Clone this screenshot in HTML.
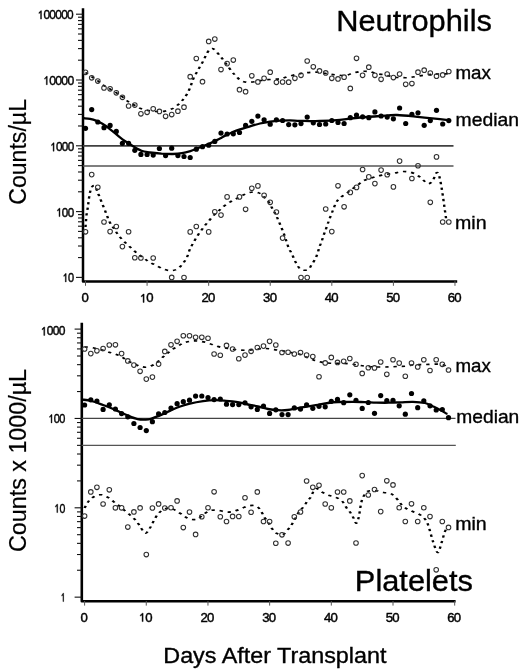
<!DOCTYPE html>
<html><head><meta charset="utf-8"><title>Neutrophils and Platelets</title>
<style>html,body{margin:0;padding:0;background:#fff;}svg{display:block;filter:grayscale(1);}</style>
</head><body>
<svg width="520" height="671" viewBox="0 0 520 671">
<rect x="0" y="0" width="520" height="671" fill="#fff"/>
<path d="M83.0 8.2 L83.0 281.5 L457.2 281.5" fill="none" stroke="#000" stroke-width="2.5" stroke-linejoin="round"/>
<line x1="76" y1="277.40" x2="83.0" y2="277.40" stroke="#111" stroke-width="1.1"/>
<line x1="78" y1="257.59" x2="83.0" y2="257.59" stroke="#111" stroke-width="1.1"/>
<line x1="78" y1="246.01" x2="83.0" y2="246.01" stroke="#111" stroke-width="1.1"/>
<line x1="78" y1="237.78" x2="83.0" y2="237.78" stroke="#111" stroke-width="1.1"/>
<line x1="78" y1="231.41" x2="83.0" y2="231.41" stroke="#111" stroke-width="1.1"/>
<line x1="78" y1="226.20" x2="83.0" y2="226.20" stroke="#111" stroke-width="1.1"/>
<line x1="78" y1="221.79" x2="83.0" y2="221.79" stroke="#111" stroke-width="1.1"/>
<line x1="78" y1="217.98" x2="83.0" y2="217.98" stroke="#111" stroke-width="1.1"/>
<line x1="78" y1="214.61" x2="83.0" y2="214.61" stroke="#111" stroke-width="1.1"/>
<line x1="76" y1="211.60" x2="83.0" y2="211.60" stroke="#111" stroke-width="1.1"/>
<line x1="78" y1="191.79" x2="83.0" y2="191.79" stroke="#111" stroke-width="1.1"/>
<line x1="78" y1="180.21" x2="83.0" y2="180.21" stroke="#111" stroke-width="1.1"/>
<line x1="78" y1="171.98" x2="83.0" y2="171.98" stroke="#111" stroke-width="1.1"/>
<line x1="78" y1="165.61" x2="83.0" y2="165.61" stroke="#111" stroke-width="1.1"/>
<line x1="78" y1="160.40" x2="83.0" y2="160.40" stroke="#111" stroke-width="1.1"/>
<line x1="78" y1="155.99" x2="83.0" y2="155.99" stroke="#111" stroke-width="1.1"/>
<line x1="78" y1="152.18" x2="83.0" y2="152.18" stroke="#111" stroke-width="1.1"/>
<line x1="78" y1="148.81" x2="83.0" y2="148.81" stroke="#111" stroke-width="1.1"/>
<line x1="76" y1="145.80" x2="83.0" y2="145.80" stroke="#111" stroke-width="1.1"/>
<line x1="78" y1="125.99" x2="83.0" y2="125.99" stroke="#111" stroke-width="1.1"/>
<line x1="78" y1="114.41" x2="83.0" y2="114.41" stroke="#111" stroke-width="1.1"/>
<line x1="78" y1="106.18" x2="83.0" y2="106.18" stroke="#111" stroke-width="1.1"/>
<line x1="78" y1="99.81" x2="83.0" y2="99.81" stroke="#111" stroke-width="1.1"/>
<line x1="78" y1="94.60" x2="83.0" y2="94.60" stroke="#111" stroke-width="1.1"/>
<line x1="78" y1="90.19" x2="83.0" y2="90.19" stroke="#111" stroke-width="1.1"/>
<line x1="78" y1="86.38" x2="83.0" y2="86.38" stroke="#111" stroke-width="1.1"/>
<line x1="78" y1="83.01" x2="83.0" y2="83.01" stroke="#111" stroke-width="1.1"/>
<line x1="76" y1="80.00" x2="83.0" y2="80.00" stroke="#111" stroke-width="1.1"/>
<line x1="78" y1="60.19" x2="83.0" y2="60.19" stroke="#111" stroke-width="1.1"/>
<line x1="78" y1="48.61" x2="83.0" y2="48.61" stroke="#111" stroke-width="1.1"/>
<line x1="78" y1="40.38" x2="83.0" y2="40.38" stroke="#111" stroke-width="1.1"/>
<line x1="78" y1="34.01" x2="83.0" y2="34.01" stroke="#111" stroke-width="1.1"/>
<line x1="78" y1="28.80" x2="83.0" y2="28.80" stroke="#111" stroke-width="1.1"/>
<line x1="78" y1="24.39" x2="83.0" y2="24.39" stroke="#111" stroke-width="1.1"/>
<line x1="78" y1="20.58" x2="83.0" y2="20.58" stroke="#111" stroke-width="1.1"/>
<line x1="78" y1="17.21" x2="83.0" y2="17.21" stroke="#111" stroke-width="1.1"/>
<line x1="76" y1="14.20" x2="83.0" y2="14.20" stroke="#111" stroke-width="1.1"/>
<line x1="85.50" y1="281" x2="85.50" y2="285.8" stroke="#555" stroke-width="1"/>
<line x1="147.08" y1="281" x2="147.08" y2="285.8" stroke="#555" stroke-width="1"/>
<line x1="208.66" y1="281" x2="208.66" y2="285.8" stroke="#555" stroke-width="1"/>
<line x1="270.24" y1="281" x2="270.24" y2="285.8" stroke="#555" stroke-width="1"/>
<line x1="331.82" y1="281" x2="331.82" y2="285.8" stroke="#555" stroke-width="1"/>
<line x1="393.40" y1="281" x2="393.40" y2="285.8" stroke="#555" stroke-width="1"/>
<line x1="454.98" y1="281" x2="454.98" y2="285.8" stroke="#555" stroke-width="1"/>
<path d="M81.8 322.8 L81.8 601.2 L455.6 601.2" fill="none" stroke="#000" stroke-width="2.6" stroke-linejoin="round"/>
<line x1="74.6" y1="597.15" x2="81.8" y2="597.15" stroke="#111" stroke-width="1.1"/>
<line x1="77" y1="570.25" x2="81.8" y2="570.25" stroke="#111" stroke-width="1.1"/>
<line x1="77" y1="554.52" x2="81.8" y2="554.52" stroke="#111" stroke-width="1.1"/>
<line x1="77" y1="543.36" x2="81.8" y2="543.36" stroke="#111" stroke-width="1.1"/>
<line x1="77" y1="534.70" x2="81.8" y2="534.70" stroke="#111" stroke-width="1.1"/>
<line x1="77" y1="527.62" x2="81.8" y2="527.62" stroke="#111" stroke-width="1.1"/>
<line x1="77" y1="521.64" x2="81.8" y2="521.64" stroke="#111" stroke-width="1.1"/>
<line x1="77" y1="516.46" x2="81.8" y2="516.46" stroke="#111" stroke-width="1.1"/>
<line x1="77" y1="511.89" x2="81.8" y2="511.89" stroke="#111" stroke-width="1.1"/>
<line x1="74.6" y1="507.80" x2="81.8" y2="507.80" stroke="#111" stroke-width="1.1"/>
<line x1="77" y1="480.90" x2="81.8" y2="480.90" stroke="#111" stroke-width="1.1"/>
<line x1="77" y1="465.17" x2="81.8" y2="465.17" stroke="#111" stroke-width="1.1"/>
<line x1="77" y1="454.01" x2="81.8" y2="454.01" stroke="#111" stroke-width="1.1"/>
<line x1="77" y1="445.35" x2="81.8" y2="445.35" stroke="#111" stroke-width="1.1"/>
<line x1="77" y1="438.27" x2="81.8" y2="438.27" stroke="#111" stroke-width="1.1"/>
<line x1="77" y1="432.29" x2="81.8" y2="432.29" stroke="#111" stroke-width="1.1"/>
<line x1="77" y1="427.11" x2="81.8" y2="427.11" stroke="#111" stroke-width="1.1"/>
<line x1="77" y1="422.54" x2="81.8" y2="422.54" stroke="#111" stroke-width="1.1"/>
<line x1="74.6" y1="418.45" x2="81.8" y2="418.45" stroke="#111" stroke-width="1.1"/>
<line x1="77" y1="391.55" x2="81.8" y2="391.55" stroke="#111" stroke-width="1.1"/>
<line x1="77" y1="375.82" x2="81.8" y2="375.82" stroke="#111" stroke-width="1.1"/>
<line x1="77" y1="364.66" x2="81.8" y2="364.66" stroke="#111" stroke-width="1.1"/>
<line x1="77" y1="356.00" x2="81.8" y2="356.00" stroke="#111" stroke-width="1.1"/>
<line x1="77" y1="348.92" x2="81.8" y2="348.92" stroke="#111" stroke-width="1.1"/>
<line x1="77" y1="342.94" x2="81.8" y2="342.94" stroke="#111" stroke-width="1.1"/>
<line x1="77" y1="337.76" x2="81.8" y2="337.76" stroke="#111" stroke-width="1.1"/>
<line x1="77" y1="333.19" x2="81.8" y2="333.19" stroke="#111" stroke-width="1.1"/>
<line x1="74.6" y1="329.10" x2="81.8" y2="329.10" stroke="#111" stroke-width="1.1"/>
<line x1="84.60" y1="601" x2="84.60" y2="605.6" stroke="#555" stroke-width="1"/>
<line x1="146.28" y1="601" x2="146.28" y2="605.6" stroke="#555" stroke-width="1"/>
<line x1="207.96" y1="601" x2="207.96" y2="605.6" stroke="#555" stroke-width="1"/>
<line x1="269.64" y1="601" x2="269.64" y2="605.6" stroke="#555" stroke-width="1"/>
<line x1="331.32" y1="601" x2="331.32" y2="605.6" stroke="#555" stroke-width="1"/>
<line x1="393.00" y1="601" x2="393.00" y2="605.6" stroke="#555" stroke-width="1"/>
<line x1="454.68" y1="601" x2="454.68" y2="605.6" stroke="#555" stroke-width="1"/>
<line x1="83.0" y1="145.9" x2="453.5" y2="145.9" stroke="#404040" stroke-width="1.7"/>
<line x1="83.0" y1="166.0" x2="453.5" y2="166.0" stroke="#555" stroke-width="1.5"/>
<line x1="81.8" y1="418.3" x2="455.5" y2="418.3" stroke="#444" stroke-width="1.3"/>
<line x1="81.8" y1="445.3" x2="455.8" y2="445.3" stroke="#555" stroke-width="1.3"/>
<g transform="scale(1.450 1)">
<path d="M58.97 72.5 C59.71 73.2 62.01 75.6 63.45 77.0 C64.89 78.4 66.21 79.6 67.59 81.0 C68.97 82.4 70.34 84.2 71.72 85.5 C73.10 86.8 74.48 87.8 75.86 89.0 C77.24 90.2 78.62 91.2 80.00 92.5 C81.38 93.8 82.76 95.0 84.14 96.5 C85.52 98.0 86.78 100.0 88.28 101.5 C89.77 103.0 91.55 104.3 93.10 105.5 C94.66 106.7 95.75 107.9 97.59 108.8 C99.43 109.7 102.24 110.5 104.14 111.0 C106.03 111.5 107.36 111.5 108.97 111.5 C110.57 111.5 112.07 111.6 113.79 111.1 C115.52 110.6 117.66 109.5 119.31 108.3 C120.97 107.0 122.53 105.1 123.72 103.6 C124.92 102.1 125.63 100.6 126.48 99.1 C127.33 97.6 128.13 96.1 128.83 94.4 C129.53 92.7 130.15 90.8 130.69 89.0 C131.23 87.2 131.61 85.5 132.07 83.7 C132.53 81.9 132.84 80.2 133.45 78.3 C134.06 76.4 134.95 74.3 135.72 72.3 C136.49 70.3 137.32 68.1 138.07 66.2 C138.82 64.3 139.52 62.8 140.21 60.9 C140.90 59.0 141.53 56.6 142.21 54.8 C142.89 53.0 143.61 50.9 144.28 49.9 C144.94 48.9 145.54 48.5 146.21 48.5 C146.87 48.5 147.39 48.9 148.28 50.1 C149.16 51.3 150.52 53.8 151.52 55.5 C152.52 57.2 152.93 57.9 154.28 60.5 C155.62 63.1 158.15 68.3 159.59 70.9 C161.02 73.5 161.80 74.6 162.90 76.2 C163.99 77.8 164.75 79.5 166.14 80.5 C167.53 81.5 169.31 82.2 171.24 82.3 C173.17 82.4 175.87 81.6 177.72 81.2 C179.57 80.8 180.56 80.2 182.34 79.9 C184.13 79.6 186.48 79.5 188.41 79.3 C190.34 79.1 192.23 79.0 193.93 78.5 C195.63 78.0 196.75 77.2 198.62 76.5 C200.49 75.8 203.23 74.8 205.17 74.2 C207.11 73.6 208.57 73.2 210.28 72.9 C211.98 72.6 213.60 72.3 215.38 72.2 C217.16 72.1 219.10 72.1 220.97 72.4 C222.83 72.7 224.70 73.6 226.55 74.0 C228.40 74.4 230.14 74.7 232.07 74.9 C234.00 75.1 236.26 75.7 238.14 75.4 C240.01 75.1 241.52 73.9 243.31 73.2 C245.10 72.5 247.05 71.8 248.90 71.5 C250.75 71.2 252.64 71.2 254.41 71.5 C256.18 71.8 257.66 73.0 259.52 73.6 C261.38 74.2 263.64 74.4 265.59 74.9 C267.53 75.5 269.32 76.5 271.17 76.9 C273.02 77.4 274.86 77.5 276.69 77.6 C278.52 77.7 280.30 77.8 282.14 77.6 C283.98 77.4 285.78 76.7 287.72 76.2 C289.67 75.8 291.86 75.3 293.79 74.9 C295.72 74.5 297.54 74.2 299.31 74.0 C301.08 73.8 302.69 74.1 304.41 74.0 C306.14 73.9 308.78 73.6 309.66 73.5" fill="none" stroke="#000" stroke-width="1.65" stroke-dasharray="2.3 3.4"/>
<path d="M58.97 227.0 C59.09 224.9 59.46 217.5 59.72 214.3 C59.99 211.1 60.32 209.9 60.55 207.7 C60.78 205.5 60.87 203.6 61.10 201.2 C61.33 198.8 61.55 195.8 61.93 193.4 C62.31 191.0 62.79 188.2 63.38 187.0 C63.97 185.8 64.83 185.3 65.45 186.0 C66.07 186.7 66.62 189.7 67.10 191.3 C67.59 192.9 67.86 194.1 68.34 195.8 C68.83 197.6 69.45 199.8 70.00 201.8 C70.55 203.8 71.10 205.7 71.66 207.7 C72.21 209.7 72.77 211.7 73.31 213.7 C73.85 215.7 74.32 217.8 74.90 219.7 C75.47 221.6 76.07 223.4 76.76 225.0 C77.45 226.6 78.28 227.6 79.03 229.2 C79.79 230.8 80.37 232.7 81.31 234.5 C82.25 236.3 83.59 238.6 84.69 240.3 C85.79 242.0 86.85 243.2 87.93 244.7 C89.01 246.1 90.01 247.5 91.17 249.0 C92.33 250.5 93.59 252.2 94.90 253.7 C96.21 255.2 97.70 256.6 99.03 258.0 C100.37 259.4 101.47 260.7 102.90 261.9 C104.32 263.1 105.98 264.1 107.59 265.3 C109.20 266.5 110.83 268.1 112.55 269.0 C114.28 269.9 116.23 270.8 117.93 270.7 C119.63 270.6 121.41 269.8 122.76 268.6 C124.10 267.4 125.00 265.4 126.00 263.6 C127.00 261.8 128.03 259.9 128.76 257.9 C129.48 255.9 129.82 253.4 130.34 251.5 C130.87 249.6 131.31 248.3 131.93 246.5 C132.55 244.7 133.32 242.8 134.07 240.9 C134.82 239.0 135.63 237.0 136.41 235.3 C137.20 233.6 137.91 232.3 138.76 230.6 C139.61 228.9 140.60 226.9 141.52 225.2 C142.44 223.5 143.28 222.2 144.28 220.5 C145.28 218.8 146.44 216.7 147.52 215.1 C148.60 213.5 149.60 212.5 150.76 211.0 C151.92 209.5 153.16 207.6 154.48 206.1 C155.80 204.6 157.22 203.3 158.69 202.0 C160.16 200.7 161.77 199.7 163.31 198.5 C164.85 197.3 166.28 196.0 167.93 194.9 C169.59 193.8 171.48 192.5 173.24 192.2 C175.00 191.9 177.01 192.1 178.48 192.9 C179.95 193.7 180.91 195.3 182.07 196.9 C183.23 198.5 184.49 200.4 185.45 202.3 C186.40 204.2 187.01 206.4 187.79 208.4 C188.57 210.4 189.44 212.4 190.14 214.4 C190.84 216.4 191.39 218.5 192.00 220.5 C192.61 222.5 193.18 224.4 193.79 226.5 C194.40 228.6 195.06 231.0 195.66 233.3 C196.25 235.7 196.79 238.1 197.38 240.6 C197.97 243.1 198.54 246.2 199.17 248.3 C199.80 250.4 200.57 251.7 201.17 253.4 C201.77 255.1 202.16 256.8 202.76 258.6 C203.36 260.4 203.95 262.6 204.76 264.4 C205.56 266.2 206.32 268.7 207.59 269.6 C208.85 270.5 211.09 270.5 212.34 269.6 C213.60 268.7 214.24 266.2 215.10 264.4 C215.97 262.6 216.85 260.5 217.52 258.6 C218.18 256.7 218.64 254.8 219.10 252.9 C219.56 251.0 219.82 249.0 220.28 247.1 C220.74 245.2 221.39 243.2 221.86 241.3 C222.33 239.4 222.68 237.3 223.10 235.5 C223.53 233.7 223.95 232.4 224.41 230.6 C224.87 228.8 225.40 226.5 225.86 224.6 C226.32 222.7 226.56 221.6 227.17 219.3 C227.78 217.0 228.74 213.4 229.52 210.6 C230.30 207.8 231.01 204.6 231.86 202.5 C232.71 200.4 233.39 199.4 234.62 197.8 C235.85 196.2 237.85 194.6 239.24 193.1 C240.63 191.6 241.72 190.3 242.97 189.0 C244.21 187.7 245.45 186.3 246.69 185.0 C247.93 183.7 249.17 182.0 250.41 181.0 C251.66 180.0 252.44 179.7 254.14 178.9 C255.84 178.1 258.61 176.9 260.62 176.2 C262.63 175.4 264.29 174.9 266.21 174.4 C268.13 173.9 270.26 173.6 272.14 173.1 C274.01 172.6 275.59 171.6 277.45 171.5 C279.31 171.4 281.54 171.7 283.31 172.3 C285.08 173.0 286.66 174.1 288.07 175.4 C289.48 176.7 290.55 178.6 291.79 180.0 C293.03 181.4 294.37 183.8 295.52 183.8 C296.67 183.8 297.90 181.6 298.69 180.0 C299.48 178.4 299.77 175.7 300.28 174.5 C300.78 173.3 301.24 172.1 301.72 172.6 C302.21 173.1 302.75 175.3 303.17 177.5 C303.60 179.7 303.93 182.8 304.28 185.5 C304.62 188.2 304.94 191.2 305.24 194.0 C305.54 196.8 305.79 199.7 306.07 202.5 C306.34 205.3 306.61 208.1 306.90 211.0 C307.18 213.9 307.64 218.5 307.79 220.0" fill="none" stroke="#000" stroke-width="1.65" stroke-dasharray="2.3 3.4"/>
<path d="M58.34 347.0 C58.61 347.0 58.74 346.9 59.93 347.1 C61.13 347.3 63.60 347.6 65.52 348.2 C67.44 348.8 69.60 349.7 71.45 350.5 C73.30 351.3 74.95 352.0 76.62 352.8 C78.29 353.6 79.92 354.1 81.45 355.1 C82.98 356.1 84.40 357.4 85.79 358.6 C87.18 359.8 88.40 361.1 89.79 362.1 C91.18 363.2 92.90 364.2 94.14 364.9 C95.38 365.6 96.00 366.1 97.24 366.5 C98.48 366.9 100.00 367.5 101.59 367.1 C103.17 366.7 105.23 365.4 106.76 364.1 C108.29 362.8 109.49 360.8 110.76 359.2 C112.02 357.6 113.16 356.0 114.34 354.6 C115.53 353.2 116.54 352.0 117.86 350.6 C119.18 349.2 120.76 347.8 122.28 346.5 C123.79 345.2 125.26 343.7 126.97 342.8 C128.67 341.9 130.63 341.2 132.48 341.0 C134.33 340.8 136.21 340.9 138.07 341.3 C139.93 341.7 141.84 342.3 143.66 343.1 C145.47 343.9 147.24 345.2 148.97 346.0 C150.69 346.8 152.31 347.2 154.00 347.7 C155.69 348.2 157.32 348.4 159.10 348.8 C160.89 349.2 162.64 349.8 164.69 350.0 C166.74 350.2 169.28 350.4 171.38 350.2 C173.48 350.0 175.32 349.3 177.31 349.0 C179.30 348.7 181.32 348.4 183.31 348.5 C185.30 348.6 187.30 349.2 189.24 349.6 C191.18 350.0 193.06 350.3 194.97 350.8 C196.87 351.3 198.75 351.9 200.69 352.5 C202.63 353.1 204.84 353.4 206.62 354.2 C208.40 355.0 209.72 356.2 211.38 357.2 C213.03 358.2 214.83 359.4 216.55 360.2 C218.28 361.0 219.86 361.6 221.72 362.1 C223.59 362.6 225.77 363.0 227.72 363.2 C229.68 363.4 231.48 363.2 233.45 363.3 C235.41 363.4 237.51 363.4 239.52 363.6 C241.53 363.9 243.60 364.4 245.52 364.8 C247.44 365.2 249.25 365.7 251.03 366.0 C252.82 366.3 254.28 366.6 256.21 366.8 C258.14 367.0 260.59 367.0 262.62 367.0 C264.66 367.0 266.47 367.0 268.41 366.9 C270.36 366.8 272.32 366.6 274.28 366.5 C276.23 366.4 278.20 366.5 280.14 366.2 C282.08 365.9 283.99 364.9 285.93 364.6 C287.87 364.3 289.85 364.7 291.79 364.6 C293.74 364.6 295.64 364.4 297.59 364.3 C299.53 364.2 301.76 364.0 303.45 364.3 C305.14 364.6 306.75 365.4 307.72 366.2 C308.70 367.0 309.05 368.5 309.31 369.0" fill="none" stroke="#000" stroke-width="1.65" stroke-dasharray="2.3 3.4"/>
<path d="M58.34 508.0 C58.82 506.9 60.05 503.0 61.17 501.1 C62.30 499.2 63.59 497.6 65.10 496.5 C66.62 495.4 68.55 494.5 70.28 494.8 C72.00 495.1 73.92 497.0 75.45 498.3 C76.98 499.6 78.16 501.5 79.45 502.9 C80.74 504.3 81.92 505.4 83.17 506.9 C84.43 508.4 85.67 510.2 86.97 511.8 C88.26 513.4 89.76 515.0 90.97 516.6 C92.17 518.2 93.26 519.6 94.21 521.2 C95.15 522.9 95.80 524.7 96.62 526.5 C97.44 528.3 98.37 530.8 99.10 531.8 C99.84 532.8 100.21 533.7 101.03 532.8 C101.86 531.9 103.22 528.5 104.07 526.5 C104.92 524.5 105.39 522.6 106.14 520.6 C106.89 518.6 107.67 516.5 108.55 514.8 C109.44 513.1 110.48 511.6 111.45 510.6 C112.41 509.6 113.31 509.0 114.34 508.6 C115.38 508.2 116.36 507.8 117.66 508.2 C118.95 508.6 120.68 510.1 122.14 511.3 C123.60 512.5 124.99 514.2 126.41 515.5 C127.84 516.8 129.08 518.4 130.69 519.0 C132.30 519.6 134.51 519.9 136.07 519.2 C137.63 518.5 138.61 516.0 140.07 514.6 C141.53 513.2 143.17 511.3 144.83 510.6 C146.48 509.9 148.15 510.0 150.00 510.2 C151.85 510.4 154.08 511.8 155.93 512.0 C157.78 512.2 159.36 512.0 161.10 511.4 C162.85 510.8 164.63 509.6 166.41 508.6 C168.20 507.7 170.01 506.1 171.79 505.7 C173.57 505.3 175.70 505.3 177.10 506.3 C178.51 507.3 179.31 509.7 180.21 511.6 C181.10 513.5 181.69 515.8 182.48 517.6 C183.28 519.4 184.14 520.6 184.97 522.4 C185.79 524.2 186.52 526.5 187.45 528.3 C188.38 530.1 189.30 532.0 190.55 533.1 C191.80 534.2 193.57 535.4 194.97 534.7 C196.36 534.0 197.84 530.7 198.90 529.0 C199.95 527.3 200.49 526.1 201.31 524.3 C202.13 522.5 202.97 520.4 203.79 518.3 C204.62 516.2 205.31 513.8 206.28 511.8 C207.24 509.8 208.63 508.2 209.59 506.4 C210.54 504.6 211.18 502.6 212.00 501.0 C212.82 499.4 213.79 498.4 214.48 496.8 C215.17 495.2 215.51 492.9 216.14 491.5 C216.77 490.1 217.38 488.5 218.28 488.5 C219.17 488.5 220.23 490.4 221.52 491.5 C222.80 492.6 224.41 494.2 226.00 495.1 C227.59 496.0 229.40 496.0 231.03 497.0 C232.67 498.0 234.48 499.1 235.79 500.9 C237.10 502.7 237.95 505.7 238.90 507.6 C239.84 509.5 240.68 510.5 241.45 512.1 C242.22 513.7 242.84 515.4 243.52 517.3 C244.20 519.1 244.92 523.0 245.52 523.2 C246.11 523.5 246.67 520.8 247.10 518.8 C247.54 516.8 247.79 514.0 248.14 511.3 C248.48 508.6 248.70 505.0 249.17 502.4 C249.64 499.8 250.21 497.5 250.97 495.7 C251.72 493.9 252.32 492.1 253.72 491.3 C255.13 490.5 257.57 490.5 259.38 490.7 C261.18 490.9 262.86 492.0 264.55 492.5 C266.24 493.0 267.98 492.4 269.52 493.5 C271.06 494.6 272.56 497.1 273.79 499.0 C275.02 500.9 275.75 502.9 276.90 504.6 C278.05 506.3 279.28 507.8 280.69 509.0 C282.10 510.2 283.79 510.9 285.38 512.0 C286.97 513.0 288.78 513.8 290.21 515.3 C291.63 516.8 292.94 518.5 293.93 520.8 C294.92 523.1 295.36 525.5 296.14 529.0 C296.92 532.5 297.67 537.6 298.62 541.5 C299.57 545.4 300.89 552.2 301.86 552.5 C302.84 552.8 303.69 546.4 304.48 543.0 C305.28 539.6 305.99 534.8 306.62 532.3 C307.25 529.8 308.00 528.5 308.28 527.7" fill="none" stroke="#000" stroke-width="1.65" stroke-dasharray="2.3 3.4"/>
</g>
<path d="M84.00 118.2 C85.00 118.3 88.00 118.5 90.00 118.9 C92.00 119.3 94.00 119.8 96.00 120.6 C98.00 121.4 100.00 122.4 102.00 123.6 C104.00 124.8 106.00 126.1 108.00 127.6 C110.00 129.1 112.00 130.7 114.00 132.3 C116.00 133.9 118.00 135.7 120.00 137.3 C122.00 138.9 124.00 140.3 126.00 141.7 C128.00 143.1 129.42 144.1 132.00 145.6 C134.58 147.1 138.50 149.7 141.50 150.8 C144.50 152.0 146.67 152.0 150.00 152.5 C153.33 153.0 157.67 153.4 161.50 153.7 C165.33 153.9 169.58 154.1 173.00 154.0 C176.42 153.9 179.10 153.7 182.00 153.2 C184.90 152.7 188.07 151.8 190.40 151.1 C192.73 150.4 194.07 149.8 196.00 149.0 C197.93 148.2 199.83 147.4 202.00 146.5 C204.17 145.6 206.90 144.6 209.00 143.7 C211.10 142.8 212.77 142.0 214.60 141.1 C216.43 140.2 218.10 139.5 220.00 138.5 C221.90 137.5 224.00 136.1 226.00 135.1 C228.00 134.1 229.67 133.4 232.00 132.4 C234.33 131.4 237.00 130.3 240.00 129.3 C243.00 128.3 246.67 127.3 250.00 126.3 C253.33 125.3 256.67 124.3 260.00 123.5 C263.33 122.7 266.67 122.1 270.00 121.6 C273.33 121.1 276.67 120.8 280.00 120.6 C283.33 120.4 286.67 120.4 290.00 120.4 C293.33 120.4 295.00 120.7 300.00 120.8 C305.00 120.9 313.33 121.2 320.00 121.0 C326.67 120.8 333.33 120.4 340.00 119.8 C346.67 119.2 353.33 118.1 360.00 117.5 C366.67 116.9 373.83 116.4 380.00 116.0 C386.17 115.6 390.33 114.8 397.00 115.0 C403.67 115.2 412.83 116.4 420.00 117.1 C427.17 117.8 435.17 118.6 440.00 119.1 C444.83 119.6 447.50 120.0 449.00 120.2" fill="none" stroke="#000" stroke-width="2.3" stroke-linecap="round"/>
<path d="M82.50 399.6 C84.00 399.8 88.07 400.1 91.50 401.0 C94.93 401.9 99.25 403.6 103.10 405.0 C106.95 406.4 110.77 408.0 114.60 409.6 C118.43 411.2 122.25 413.2 126.10 414.8 C129.95 416.4 133.97 418.4 137.70 419.1 C141.43 419.9 145.55 419.6 148.50 419.3 C151.45 419.0 153.10 417.9 155.40 417.1 C157.70 416.3 159.80 415.5 162.30 414.4 C164.80 413.3 167.52 411.9 170.40 410.6 C173.28 409.3 176.53 407.8 179.60 406.7 C182.67 405.6 184.88 404.7 188.80 403.8 C192.72 402.9 198.80 401.7 203.10 401.1 C207.40 400.5 210.77 400.2 214.60 400.2 C218.43 400.1 222.25 400.5 226.10 400.8 C229.95 401.1 234.05 401.5 237.70 402.1 C241.35 402.7 244.62 403.8 248.00 404.5 C251.38 405.2 254.67 405.8 258.00 406.5 C261.33 407.2 264.67 408.4 268.00 409.0 C271.33 409.6 274.72 410.0 278.00 410.2 C281.28 410.4 284.53 410.3 287.70 410.0 C290.87 409.7 293.62 408.9 297.00 408.3 C300.38 407.7 304.50 406.9 308.00 406.3 C311.50 405.7 314.67 405.4 318.00 404.8 C321.33 404.2 324.67 403.5 328.00 403.0 C331.33 402.5 333.82 402.2 338.00 402.0 C342.18 401.8 348.67 401.8 353.10 401.8 C357.53 401.8 360.77 402.0 364.60 402.1 C368.43 402.2 372.20 402.5 376.10 402.6 C380.00 402.7 384.02 402.8 388.00 402.7 C391.98 402.6 395.83 402.4 400.00 402.3 C404.17 402.2 408.83 401.7 413.00 401.8 C417.17 401.9 421.50 402.2 425.00 403.0 C428.50 403.8 431.33 405.6 434.00 406.8 C436.67 408.0 438.92 409.2 441.00 410.3 C443.08 411.4 445.58 413.1 446.50 413.6" fill="none" stroke="#000" stroke-width="2.3" stroke-linecap="round"/>
<circle cx="85.5" cy="72.3" r="2.3" fill="none" stroke="#303030" stroke-width="1.05"/>
<circle cx="91.7" cy="77.8" r="2.3" fill="none" stroke="#303030" stroke-width="1.05"/>
<circle cx="97.8" cy="81.1" r="2.3" fill="none" stroke="#303030" stroke-width="1.05"/>
<circle cx="104.0" cy="88.0" r="2.3" fill="none" stroke="#303030" stroke-width="1.05"/>
<circle cx="110.1" cy="88.8" r="2.3" fill="none" stroke="#303030" stroke-width="1.05"/>
<circle cx="116.3" cy="92.8" r="2.3" fill="none" stroke="#303030" stroke-width="1.05"/>
<circle cx="122.4" cy="97.3" r="2.3" fill="none" stroke="#303030" stroke-width="1.05"/>
<circle cx="128.6" cy="106.0" r="2.3" fill="none" stroke="#303030" stroke-width="1.05"/>
<circle cx="134.8" cy="105.1" r="2.3" fill="none" stroke="#303030" stroke-width="1.05"/>
<circle cx="140.9" cy="113.8" r="2.3" fill="none" stroke="#303030" stroke-width="1.05"/>
<circle cx="147.1" cy="112.3" r="2.3" fill="none" stroke="#303030" stroke-width="1.05"/>
<circle cx="153.2" cy="108.8" r="2.3" fill="none" stroke="#303030" stroke-width="1.05"/>
<circle cx="159.4" cy="111.4" r="2.3" fill="none" stroke="#303030" stroke-width="1.05"/>
<circle cx="165.6" cy="116.3" r="2.3" fill="none" stroke="#303030" stroke-width="1.05"/>
<circle cx="171.7" cy="114.6" r="2.3" fill="none" stroke="#303030" stroke-width="1.05"/>
<circle cx="177.9" cy="111.2" r="2.3" fill="none" stroke="#303030" stroke-width="1.05"/>
<circle cx="184.0" cy="107.2" r="2.3" fill="none" stroke="#303030" stroke-width="1.05"/>
<circle cx="190.2" cy="76.7" r="2.3" fill="none" stroke="#303030" stroke-width="1.05"/>
<circle cx="196.3" cy="58.5" r="2.3" fill="none" stroke="#303030" stroke-width="1.05"/>
<circle cx="202.5" cy="81.7" r="2.3" fill="none" stroke="#303030" stroke-width="1.05"/>
<circle cx="208.7" cy="41.4" r="2.3" fill="none" stroke="#303030" stroke-width="1.05"/>
<circle cx="214.8" cy="39.1" r="2.3" fill="none" stroke="#303030" stroke-width="1.05"/>
<circle cx="221.0" cy="69.6" r="2.3" fill="none" stroke="#303030" stroke-width="1.05"/>
<circle cx="227.1" cy="63.6" r="2.3" fill="none" stroke="#303030" stroke-width="1.05"/>
<circle cx="233.3" cy="60.1" r="2.3" fill="none" stroke="#303030" stroke-width="1.05"/>
<circle cx="239.5" cy="89.7" r="2.3" fill="none" stroke="#303030" stroke-width="1.05"/>
<circle cx="245.6" cy="91.7" r="2.3" fill="none" stroke="#303030" stroke-width="1.05"/>
<circle cx="251.8" cy="75.8" r="2.3" fill="none" stroke="#303030" stroke-width="1.05"/>
<circle cx="257.9" cy="81.9" r="2.3" fill="none" stroke="#303030" stroke-width="1.05"/>
<circle cx="264.1" cy="78.3" r="2.3" fill="none" stroke="#303030" stroke-width="1.05"/>
<circle cx="270.2" cy="72.2" r="2.3" fill="none" stroke="#303030" stroke-width="1.05"/>
<circle cx="276.4" cy="82.3" r="2.3" fill="none" stroke="#303030" stroke-width="1.05"/>
<circle cx="282.6" cy="82.0" r="2.3" fill="none" stroke="#303030" stroke-width="1.05"/>
<circle cx="288.7" cy="82.2" r="2.3" fill="none" stroke="#303030" stroke-width="1.05"/>
<circle cx="294.9" cy="78.3" r="2.3" fill="none" stroke="#303030" stroke-width="1.05"/>
<circle cx="301.0" cy="75.3" r="2.3" fill="none" stroke="#303030" stroke-width="1.05"/>
<circle cx="307.2" cy="61.0" r="2.3" fill="none" stroke="#303030" stroke-width="1.05"/>
<circle cx="313.3" cy="66.8" r="2.3" fill="none" stroke="#303030" stroke-width="1.05"/>
<circle cx="319.5" cy="70.9" r="2.3" fill="none" stroke="#303030" stroke-width="1.05"/>
<circle cx="325.7" cy="72.9" r="2.3" fill="none" stroke="#303030" stroke-width="1.05"/>
<circle cx="331.8" cy="78.3" r="2.3" fill="none" stroke="#303030" stroke-width="1.05"/>
<circle cx="338.0" cy="78.9" r="2.3" fill="none" stroke="#303030" stroke-width="1.05"/>
<circle cx="344.1" cy="77.2" r="2.3" fill="none" stroke="#303030" stroke-width="1.05"/>
<circle cx="350.3" cy="88.4" r="2.3" fill="none" stroke="#303030" stroke-width="1.05"/>
<circle cx="356.5" cy="58.3" r="2.3" fill="none" stroke="#303030" stroke-width="1.05"/>
<circle cx="362.6" cy="75.3" r="2.3" fill="none" stroke="#303030" stroke-width="1.05"/>
<circle cx="368.8" cy="67.2" r="2.3" fill="none" stroke="#303030" stroke-width="1.05"/>
<circle cx="374.9" cy="75.3" r="2.3" fill="none" stroke="#303030" stroke-width="1.05"/>
<circle cx="381.1" cy="79.3" r="2.3" fill="none" stroke="#303030" stroke-width="1.05"/>
<circle cx="387.2" cy="74.0" r="2.3" fill="none" stroke="#303030" stroke-width="1.05"/>
<circle cx="393.4" cy="77.6" r="2.3" fill="none" stroke="#303030" stroke-width="1.05"/>
<circle cx="399.6" cy="74.1" r="2.3" fill="none" stroke="#303030" stroke-width="1.05"/>
<circle cx="405.7" cy="84.3" r="2.3" fill="none" stroke="#303030" stroke-width="1.05"/>
<circle cx="411.9" cy="83.6" r="2.3" fill="none" stroke="#303030" stroke-width="1.05"/>
<circle cx="418.0" cy="72.2" r="2.3" fill="none" stroke="#303030" stroke-width="1.05"/>
<circle cx="424.2" cy="70.2" r="2.3" fill="none" stroke="#303030" stroke-width="1.05"/>
<circle cx="430.3" cy="73.1" r="2.3" fill="none" stroke="#303030" stroke-width="1.05"/>
<circle cx="436.5" cy="76.2" r="2.3" fill="none" stroke="#303030" stroke-width="1.05"/>
<circle cx="442.7" cy="74.9" r="2.3" fill="none" stroke="#303030" stroke-width="1.05"/>
<circle cx="448.8" cy="71.5" r="2.3" fill="none" stroke="#303030" stroke-width="1.05"/>
<circle cx="85.5" cy="231.8" r="2.3" fill="none" stroke="#303030" stroke-width="1.05"/>
<circle cx="91.7" cy="174.6" r="2.3" fill="none" stroke="#303030" stroke-width="1.05"/>
<circle cx="97.8" cy="187.2" r="2.3" fill="none" stroke="#303030" stroke-width="1.05"/>
<circle cx="104.0" cy="222.0" r="2.3" fill="none" stroke="#303030" stroke-width="1.05"/>
<circle cx="110.1" cy="231.6" r="2.3" fill="none" stroke="#303030" stroke-width="1.05"/>
<circle cx="116.3" cy="226.5" r="2.3" fill="none" stroke="#303030" stroke-width="1.05"/>
<circle cx="122.4" cy="246.6" r="2.3" fill="none" stroke="#303030" stroke-width="1.05"/>
<circle cx="128.6" cy="231.7" r="2.3" fill="none" stroke="#303030" stroke-width="1.05"/>
<circle cx="134.8" cy="257.8" r="2.3" fill="none" stroke="#303030" stroke-width="1.05"/>
<circle cx="140.9" cy="258.0" r="2.3" fill="none" stroke="#303030" stroke-width="1.05"/>
<circle cx="153.2" cy="258.0" r="2.3" fill="none" stroke="#303030" stroke-width="1.05"/>
<circle cx="171.7" cy="277.4" r="2.3" fill="none" stroke="#303030" stroke-width="1.05"/>
<circle cx="184.0" cy="277.5" r="2.3" fill="none" stroke="#303030" stroke-width="1.05"/>
<circle cx="190.2" cy="231.9" r="2.3" fill="none" stroke="#303030" stroke-width="1.05"/>
<circle cx="196.3" cy="226.5" r="2.3" fill="none" stroke="#303030" stroke-width="1.05"/>
<circle cx="208.7" cy="231.9" r="2.3" fill="none" stroke="#303030" stroke-width="1.05"/>
<circle cx="214.8" cy="211.7" r="2.3" fill="none" stroke="#303030" stroke-width="1.05"/>
<circle cx="221.0" cy="215.1" r="2.3" fill="none" stroke="#303030" stroke-width="1.05"/>
<circle cx="227.1" cy="196.9" r="2.3" fill="none" stroke="#303030" stroke-width="1.05"/>
<circle cx="239.5" cy="196.9" r="2.3" fill="none" stroke="#303030" stroke-width="1.05"/>
<circle cx="245.6" cy="209.3" r="2.3" fill="none" stroke="#303030" stroke-width="1.05"/>
<circle cx="251.8" cy="188.2" r="2.3" fill="none" stroke="#303030" stroke-width="1.05"/>
<circle cx="257.9" cy="185.9" r="2.3" fill="none" stroke="#303030" stroke-width="1.05"/>
<circle cx="264.1" cy="195.3" r="2.3" fill="none" stroke="#303030" stroke-width="1.05"/>
<circle cx="270.2" cy="202.3" r="2.3" fill="none" stroke="#303030" stroke-width="1.05"/>
<circle cx="276.4" cy="212.0" r="2.3" fill="none" stroke="#303030" stroke-width="1.05"/>
<circle cx="282.6" cy="238.1" r="2.3" fill="none" stroke="#303030" stroke-width="1.05"/>
<circle cx="301.0" cy="277.6" r="2.3" fill="none" stroke="#303030" stroke-width="1.05"/>
<circle cx="307.2" cy="277.6" r="2.3" fill="none" stroke="#303030" stroke-width="1.05"/>
<circle cx="325.7" cy="209.0" r="2.3" fill="none" stroke="#303030" stroke-width="1.05"/>
<circle cx="331.8" cy="231.6" r="2.3" fill="none" stroke="#303030" stroke-width="1.05"/>
<circle cx="338.0" cy="185.8" r="2.3" fill="none" stroke="#303030" stroke-width="1.05"/>
<circle cx="344.1" cy="206.8" r="2.3" fill="none" stroke="#303030" stroke-width="1.05"/>
<circle cx="350.3" cy="192.4" r="2.3" fill="none" stroke="#303030" stroke-width="1.05"/>
<circle cx="356.5" cy="187.4" r="2.3" fill="none" stroke="#303030" stroke-width="1.05"/>
<circle cx="362.6" cy="169.5" r="2.3" fill="none" stroke="#303030" stroke-width="1.05"/>
<circle cx="368.8" cy="176.9" r="2.3" fill="none" stroke="#303030" stroke-width="1.05"/>
<circle cx="374.9" cy="183.6" r="2.3" fill="none" stroke="#303030" stroke-width="1.05"/>
<circle cx="381.1" cy="170.1" r="2.3" fill="none" stroke="#303030" stroke-width="1.05"/>
<circle cx="387.2" cy="174.7" r="2.3" fill="none" stroke="#303030" stroke-width="1.05"/>
<circle cx="393.4" cy="186.9" r="2.3" fill="none" stroke="#303030" stroke-width="1.05"/>
<circle cx="399.6" cy="161.1" r="2.3" fill="none" stroke="#303030" stroke-width="1.05"/>
<circle cx="411.9" cy="178.5" r="2.3" fill="none" stroke="#303030" stroke-width="1.05"/>
<circle cx="418.0" cy="165.7" r="2.3" fill="none" stroke="#303030" stroke-width="1.05"/>
<circle cx="430.3" cy="202.3" r="2.3" fill="none" stroke="#303030" stroke-width="1.05"/>
<circle cx="436.5" cy="156.9" r="2.3" fill="none" stroke="#303030" stroke-width="1.05"/>
<circle cx="442.7" cy="222.0" r="2.3" fill="none" stroke="#303030" stroke-width="1.05"/>
<circle cx="448.8" cy="222.0" r="2.3" fill="none" stroke="#303030" stroke-width="1.05"/>
<circle cx="85.5" cy="128.3" r="2.6" fill="#000"/>
<circle cx="91.7" cy="109.6" r="2.6" fill="#000"/>
<circle cx="97.8" cy="122.0" r="2.6" fill="#000"/>
<circle cx="104.0" cy="127.7" r="2.6" fill="#000"/>
<circle cx="110.1" cy="125.4" r="2.6" fill="#000"/>
<circle cx="116.3" cy="131.4" r="2.6" fill="#000"/>
<circle cx="122.4" cy="143.3" r="2.6" fill="#000"/>
<circle cx="128.6" cy="143.3" r="2.6" fill="#000"/>
<circle cx="134.8" cy="150.3" r="2.6" fill="#000"/>
<circle cx="140.9" cy="154.4" r="2.6" fill="#000"/>
<circle cx="147.1" cy="154.5" r="2.6" fill="#000"/>
<circle cx="153.2" cy="155.1" r="2.6" fill="#000"/>
<circle cx="159.4" cy="148.5" r="2.6" fill="#000"/>
<circle cx="165.6" cy="155.6" r="2.6" fill="#000"/>
<circle cx="171.7" cy="148.2" r="2.6" fill="#000"/>
<circle cx="177.9" cy="155.6" r="2.6" fill="#000"/>
<circle cx="184.0" cy="156.5" r="2.6" fill="#000"/>
<circle cx="190.2" cy="157.5" r="2.6" fill="#000"/>
<circle cx="196.3" cy="149.2" r="2.6" fill="#000"/>
<circle cx="202.5" cy="146.7" r="2.6" fill="#000"/>
<circle cx="208.7" cy="145.2" r="2.6" fill="#000"/>
<circle cx="214.8" cy="141.4" r="2.6" fill="#000"/>
<circle cx="221.0" cy="133.1" r="2.6" fill="#000"/>
<circle cx="227.1" cy="134.0" r="2.6" fill="#000"/>
<circle cx="233.3" cy="133.8" r="2.6" fill="#000"/>
<circle cx="239.5" cy="132.5" r="2.6" fill="#000"/>
<circle cx="245.6" cy="125.4" r="2.6" fill="#000"/>
<circle cx="251.8" cy="121.3" r="2.6" fill="#000"/>
<circle cx="257.9" cy="116.1" r="2.6" fill="#000"/>
<circle cx="264.1" cy="119.8" r="2.6" fill="#000"/>
<circle cx="270.2" cy="124.2" r="2.6" fill="#000"/>
<circle cx="276.4" cy="119.8" r="2.6" fill="#000"/>
<circle cx="282.6" cy="120.5" r="2.6" fill="#000"/>
<circle cx="288.7" cy="124.6" r="2.6" fill="#000"/>
<circle cx="294.9" cy="124.8" r="2.6" fill="#000"/>
<circle cx="301.0" cy="123.6" r="2.6" fill="#000"/>
<circle cx="307.2" cy="117.1" r="2.6" fill="#000"/>
<circle cx="313.3" cy="122.8" r="2.6" fill="#000"/>
<circle cx="319.5" cy="124.5" r="2.6" fill="#000"/>
<circle cx="325.7" cy="124.0" r="2.6" fill="#000"/>
<circle cx="331.8" cy="120.5" r="2.6" fill="#000"/>
<circle cx="338.0" cy="122.5" r="2.6" fill="#000"/>
<circle cx="344.1" cy="123.5" r="2.6" fill="#000"/>
<circle cx="350.3" cy="117.7" r="2.6" fill="#000"/>
<circle cx="356.5" cy="115.1" r="2.6" fill="#000"/>
<circle cx="362.6" cy="116.8" r="2.6" fill="#000"/>
<circle cx="368.8" cy="117.7" r="2.6" fill="#000"/>
<circle cx="374.9" cy="111.9" r="2.6" fill="#000"/>
<circle cx="381.1" cy="116.0" r="2.6" fill="#000"/>
<circle cx="387.2" cy="117.1" r="2.6" fill="#000"/>
<circle cx="393.4" cy="118.8" r="2.6" fill="#000"/>
<circle cx="399.6" cy="108.0" r="2.6" fill="#000"/>
<circle cx="405.7" cy="123.5" r="2.6" fill="#000"/>
<circle cx="411.9" cy="114.4" r="2.6" fill="#000"/>
<circle cx="418.0" cy="112.8" r="2.6" fill="#000"/>
<circle cx="424.2" cy="125.3" r="2.6" fill="#000"/>
<circle cx="430.3" cy="120.6" r="2.6" fill="#000"/>
<circle cx="436.5" cy="110.3" r="2.6" fill="#000"/>
<circle cx="442.7" cy="124.0" r="2.6" fill="#000"/>
<circle cx="448.8" cy="120.6" r="2.6" fill="#000"/>
<circle cx="84.6" cy="349.0" r="2.3" fill="none" stroke="#303030" stroke-width="1.05"/>
<circle cx="90.8" cy="353.6" r="2.3" fill="none" stroke="#303030" stroke-width="1.05"/>
<circle cx="96.9" cy="350.8" r="2.3" fill="none" stroke="#303030" stroke-width="1.05"/>
<circle cx="103.1" cy="348.5" r="2.3" fill="none" stroke="#303030" stroke-width="1.05"/>
<circle cx="109.3" cy="345.0" r="2.3" fill="none" stroke="#303030" stroke-width="1.05"/>
<circle cx="115.4" cy="344.8" r="2.3" fill="none" stroke="#303030" stroke-width="1.05"/>
<circle cx="121.6" cy="353.6" r="2.3" fill="none" stroke="#303030" stroke-width="1.05"/>
<circle cx="127.8" cy="360.9" r="2.3" fill="none" stroke="#303030" stroke-width="1.05"/>
<circle cx="133.9" cy="365.1" r="2.3" fill="none" stroke="#303030" stroke-width="1.05"/>
<circle cx="140.1" cy="371.3" r="2.3" fill="none" stroke="#303030" stroke-width="1.05"/>
<circle cx="146.3" cy="379.1" r="2.3" fill="none" stroke="#303030" stroke-width="1.05"/>
<circle cx="152.4" cy="377.1" r="2.3" fill="none" stroke="#303030" stroke-width="1.05"/>
<circle cx="158.6" cy="364.1" r="2.3" fill="none" stroke="#303030" stroke-width="1.05"/>
<circle cx="164.8" cy="351.4" r="2.3" fill="none" stroke="#303030" stroke-width="1.05"/>
<circle cx="171.0" cy="344.8" r="2.3" fill="none" stroke="#303030" stroke-width="1.05"/>
<circle cx="177.1" cy="341.3" r="2.3" fill="none" stroke="#303030" stroke-width="1.05"/>
<circle cx="183.3" cy="335.7" r="2.3" fill="none" stroke="#303030" stroke-width="1.05"/>
<circle cx="189.5" cy="335.7" r="2.3" fill="none" stroke="#303030" stroke-width="1.05"/>
<circle cx="195.6" cy="337.3" r="2.3" fill="none" stroke="#303030" stroke-width="1.05"/>
<circle cx="201.8" cy="337.3" r="2.3" fill="none" stroke="#303030" stroke-width="1.05"/>
<circle cx="208.0" cy="338.2" r="2.3" fill="none" stroke="#303030" stroke-width="1.05"/>
<circle cx="214.1" cy="354.0" r="2.3" fill="none" stroke="#303030" stroke-width="1.05"/>
<circle cx="220.3" cy="355.2" r="2.3" fill="none" stroke="#303030" stroke-width="1.05"/>
<circle cx="226.5" cy="345.4" r="2.3" fill="none" stroke="#303030" stroke-width="1.05"/>
<circle cx="232.6" cy="349.0" r="2.3" fill="none" stroke="#303030" stroke-width="1.05"/>
<circle cx="238.8" cy="358.7" r="2.3" fill="none" stroke="#303030" stroke-width="1.05"/>
<circle cx="245.0" cy="355.1" r="2.3" fill="none" stroke="#303030" stroke-width="1.05"/>
<circle cx="251.1" cy="351.3" r="2.3" fill="none" stroke="#303030" stroke-width="1.05"/>
<circle cx="257.3" cy="347.5" r="2.3" fill="none" stroke="#303030" stroke-width="1.05"/>
<circle cx="263.5" cy="346.1" r="2.3" fill="none" stroke="#303030" stroke-width="1.05"/>
<circle cx="269.6" cy="341.3" r="2.3" fill="none" stroke="#303030" stroke-width="1.05"/>
<circle cx="275.8" cy="345.0" r="2.3" fill="none" stroke="#303030" stroke-width="1.05"/>
<circle cx="282.0" cy="352.5" r="2.3" fill="none" stroke="#303030" stroke-width="1.05"/>
<circle cx="288.1" cy="352.2" r="2.3" fill="none" stroke="#303030" stroke-width="1.05"/>
<circle cx="294.3" cy="354.0" r="2.3" fill="none" stroke="#303030" stroke-width="1.05"/>
<circle cx="300.5" cy="352.5" r="2.3" fill="none" stroke="#303030" stroke-width="1.05"/>
<circle cx="306.6" cy="355.1" r="2.3" fill="none" stroke="#303030" stroke-width="1.05"/>
<circle cx="312.8" cy="356.5" r="2.3" fill="none" stroke="#303030" stroke-width="1.05"/>
<circle cx="319.0" cy="376.7" r="2.3" fill="none" stroke="#303030" stroke-width="1.05"/>
<circle cx="325.2" cy="362.9" r="2.3" fill="none" stroke="#303030" stroke-width="1.05"/>
<circle cx="331.3" cy="357.4" r="2.3" fill="none" stroke="#303030" stroke-width="1.05"/>
<circle cx="337.5" cy="362.4" r="2.3" fill="none" stroke="#303030" stroke-width="1.05"/>
<circle cx="343.7" cy="361.3" r="2.3" fill="none" stroke="#303030" stroke-width="1.05"/>
<circle cx="349.8" cy="358.5" r="2.3" fill="none" stroke="#303030" stroke-width="1.05"/>
<circle cx="356.0" cy="364.2" r="2.3" fill="none" stroke="#303030" stroke-width="1.05"/>
<circle cx="362.2" cy="373.4" r="2.3" fill="none" stroke="#303030" stroke-width="1.05"/>
<circle cx="368.3" cy="367.7" r="2.3" fill="none" stroke="#303030" stroke-width="1.05"/>
<circle cx="374.5" cy="367.9" r="2.3" fill="none" stroke="#303030" stroke-width="1.05"/>
<circle cx="380.7" cy="362.0" r="2.3" fill="none" stroke="#303030" stroke-width="1.05"/>
<circle cx="386.8" cy="374.3" r="2.3" fill="none" stroke="#303030" stroke-width="1.05"/>
<circle cx="393.0" cy="359.7" r="2.3" fill="none" stroke="#303030" stroke-width="1.05"/>
<circle cx="399.2" cy="363.1" r="2.3" fill="none" stroke="#303030" stroke-width="1.05"/>
<circle cx="405.3" cy="376.2" r="2.3" fill="none" stroke="#303030" stroke-width="1.05"/>
<circle cx="411.5" cy="363.1" r="2.3" fill="none" stroke="#303030" stroke-width="1.05"/>
<circle cx="417.7" cy="366.9" r="2.3" fill="none" stroke="#303030" stroke-width="1.05"/>
<circle cx="423.8" cy="359.7" r="2.3" fill="none" stroke="#303030" stroke-width="1.05"/>
<circle cx="430.0" cy="370.5" r="2.3" fill="none" stroke="#303030" stroke-width="1.05"/>
<circle cx="436.2" cy="359.7" r="2.3" fill="none" stroke="#303030" stroke-width="1.05"/>
<circle cx="442.3" cy="364.3" r="2.3" fill="none" stroke="#303030" stroke-width="1.05"/>
<circle cx="448.5" cy="370.0" r="2.3" fill="none" stroke="#303030" stroke-width="1.05"/>
<circle cx="84.6" cy="516.1" r="2.3" fill="none" stroke="#303030" stroke-width="1.05"/>
<circle cx="90.8" cy="491.9" r="2.3" fill="none" stroke="#303030" stroke-width="1.05"/>
<circle cx="96.9" cy="487.3" r="2.3" fill="none" stroke="#303030" stroke-width="1.05"/>
<circle cx="103.1" cy="504.0" r="2.3" fill="none" stroke="#303030" stroke-width="1.05"/>
<circle cx="109.3" cy="489.8" r="2.3" fill="none" stroke="#303030" stroke-width="1.05"/>
<circle cx="115.4" cy="507.8" r="2.3" fill="none" stroke="#303030" stroke-width="1.05"/>
<circle cx="121.6" cy="507.8" r="2.3" fill="none" stroke="#303030" stroke-width="1.05"/>
<circle cx="127.8" cy="527.1" r="2.3" fill="none" stroke="#303030" stroke-width="1.05"/>
<circle cx="133.9" cy="511.9" r="2.3" fill="none" stroke="#303030" stroke-width="1.05"/>
<circle cx="140.1" cy="507.9" r="2.3" fill="none" stroke="#303030" stroke-width="1.05"/>
<circle cx="146.3" cy="554.6" r="2.3" fill="none" stroke="#303030" stroke-width="1.05"/>
<circle cx="152.4" cy="508.0" r="2.3" fill="none" stroke="#303030" stroke-width="1.05"/>
<circle cx="158.6" cy="503.9" r="2.3" fill="none" stroke="#303030" stroke-width="1.05"/>
<circle cx="164.8" cy="508.0" r="2.3" fill="none" stroke="#303030" stroke-width="1.05"/>
<circle cx="171.0" cy="507.7" r="2.3" fill="none" stroke="#303030" stroke-width="1.05"/>
<circle cx="177.1" cy="500.9" r="2.3" fill="none" stroke="#303030" stroke-width="1.05"/>
<circle cx="183.3" cy="527.6" r="2.3" fill="none" stroke="#303030" stroke-width="1.05"/>
<circle cx="189.5" cy="512.1" r="2.3" fill="none" stroke="#303030" stroke-width="1.05"/>
<circle cx="195.6" cy="534.4" r="2.3" fill="none" stroke="#303030" stroke-width="1.05"/>
<circle cx="201.8" cy="516.7" r="2.3" fill="none" stroke="#303030" stroke-width="1.05"/>
<circle cx="208.0" cy="507.7" r="2.3" fill="none" stroke="#303030" stroke-width="1.05"/>
<circle cx="214.1" cy="491.8" r="2.3" fill="none" stroke="#303030" stroke-width="1.05"/>
<circle cx="220.3" cy="516.7" r="2.3" fill="none" stroke="#303030" stroke-width="1.05"/>
<circle cx="226.5" cy="521.5" r="2.3" fill="none" stroke="#303030" stroke-width="1.05"/>
<circle cx="232.6" cy="516.4" r="2.3" fill="none" stroke="#303030" stroke-width="1.05"/>
<circle cx="238.8" cy="516.5" r="2.3" fill="none" stroke="#303030" stroke-width="1.05"/>
<circle cx="245.0" cy="497.7" r="2.3" fill="none" stroke="#303030" stroke-width="1.05"/>
<circle cx="251.1" cy="512.2" r="2.3" fill="none" stroke="#303030" stroke-width="1.05"/>
<circle cx="257.3" cy="491.9" r="2.3" fill="none" stroke="#303030" stroke-width="1.05"/>
<circle cx="263.5" cy="521.5" r="2.3" fill="none" stroke="#303030" stroke-width="1.05"/>
<circle cx="269.6" cy="521.5" r="2.3" fill="none" stroke="#303030" stroke-width="1.05"/>
<circle cx="275.8" cy="543.2" r="2.3" fill="none" stroke="#303030" stroke-width="1.05"/>
<circle cx="282.0" cy="534.8" r="2.3" fill="none" stroke="#303030" stroke-width="1.05"/>
<circle cx="288.1" cy="543.1" r="2.3" fill="none" stroke="#303030" stroke-width="1.05"/>
<circle cx="294.3" cy="516.8" r="2.3" fill="none" stroke="#303030" stroke-width="1.05"/>
<circle cx="300.5" cy="512.0" r="2.3" fill="none" stroke="#303030" stroke-width="1.05"/>
<circle cx="306.6" cy="481.0" r="2.3" fill="none" stroke="#303030" stroke-width="1.05"/>
<circle cx="312.8" cy="487.3" r="2.3" fill="none" stroke="#303030" stroke-width="1.05"/>
<circle cx="319.0" cy="485.3" r="2.3" fill="none" stroke="#303030" stroke-width="1.05"/>
<circle cx="325.2" cy="504.0" r="2.3" fill="none" stroke="#303030" stroke-width="1.05"/>
<circle cx="331.3" cy="507.8" r="2.3" fill="none" stroke="#303030" stroke-width="1.05"/>
<circle cx="337.5" cy="492.0" r="2.3" fill="none" stroke="#303030" stroke-width="1.05"/>
<circle cx="343.7" cy="492.0" r="2.3" fill="none" stroke="#303030" stroke-width="1.05"/>
<circle cx="349.8" cy="500.9" r="2.3" fill="none" stroke="#303030" stroke-width="1.05"/>
<circle cx="356.0" cy="543.0" r="2.3" fill="none" stroke="#303030" stroke-width="1.05"/>
<circle cx="362.2" cy="475.6" r="2.3" fill="none" stroke="#303030" stroke-width="1.05"/>
<circle cx="368.3" cy="495.0" r="2.3" fill="none" stroke="#303030" stroke-width="1.05"/>
<circle cx="374.5" cy="489.5" r="2.3" fill="none" stroke="#303030" stroke-width="1.05"/>
<circle cx="380.7" cy="511.6" r="2.3" fill="none" stroke="#303030" stroke-width="1.05"/>
<circle cx="386.8" cy="480.8" r="2.3" fill="none" stroke="#303030" stroke-width="1.05"/>
<circle cx="393.0" cy="484.9" r="2.3" fill="none" stroke="#303030" stroke-width="1.05"/>
<circle cx="399.2" cy="507.7" r="2.3" fill="none" stroke="#303030" stroke-width="1.05"/>
<circle cx="405.3" cy="521.5" r="2.3" fill="none" stroke="#303030" stroke-width="1.05"/>
<circle cx="411.5" cy="503.8" r="2.3" fill="none" stroke="#303030" stroke-width="1.05"/>
<circle cx="417.7" cy="521.5" r="2.3" fill="none" stroke="#303030" stroke-width="1.05"/>
<circle cx="423.8" cy="507.7" r="2.3" fill="none" stroke="#303030" stroke-width="1.05"/>
<circle cx="430.0" cy="516.6" r="2.3" fill="none" stroke="#303030" stroke-width="1.05"/>
<circle cx="436.2" cy="569.8" r="2.3" fill="none" stroke="#303030" stroke-width="1.05"/>
<circle cx="442.3" cy="521.5" r="2.3" fill="none" stroke="#303030" stroke-width="1.05"/>
<circle cx="448.5" cy="527.4" r="2.3" fill="none" stroke="#303030" stroke-width="1.05"/>
<circle cx="84.6" cy="405.0" r="2.6" fill="#000"/>
<circle cx="90.8" cy="399.8" r="2.6" fill="#000"/>
<circle cx="96.9" cy="401.0" r="2.6" fill="#000"/>
<circle cx="103.1" cy="409.4" r="2.6" fill="#000"/>
<circle cx="109.3" cy="404.8" r="2.6" fill="#000"/>
<circle cx="115.4" cy="409.0" r="2.6" fill="#000"/>
<circle cx="121.6" cy="413.6" r="2.6" fill="#000"/>
<circle cx="127.8" cy="416.8" r="2.6" fill="#000"/>
<circle cx="133.9" cy="423.5" r="2.6" fill="#000"/>
<circle cx="140.1" cy="427.5" r="2.6" fill="#000"/>
<circle cx="146.3" cy="430.6" r="2.6" fill="#000"/>
<circle cx="152.4" cy="421.7" r="2.6" fill="#000"/>
<circle cx="158.6" cy="413.8" r="2.6" fill="#000"/>
<circle cx="164.8" cy="412.5" r="2.6" fill="#000"/>
<circle cx="171.0" cy="408.1" r="2.6" fill="#000"/>
<circle cx="177.1" cy="403.7" r="2.6" fill="#000"/>
<circle cx="183.3" cy="401.7" r="2.6" fill="#000"/>
<circle cx="189.5" cy="400.2" r="2.6" fill="#000"/>
<circle cx="195.6" cy="396.1" r="2.6" fill="#000"/>
<circle cx="201.8" cy="396.0" r="2.6" fill="#000"/>
<circle cx="208.0" cy="397.5" r="2.6" fill="#000"/>
<circle cx="214.1" cy="399.6" r="2.6" fill="#000"/>
<circle cx="220.3" cy="399.0" r="2.6" fill="#000"/>
<circle cx="226.5" cy="404.2" r="2.6" fill="#000"/>
<circle cx="232.6" cy="404.6" r="2.6" fill="#000"/>
<circle cx="238.8" cy="404.6" r="2.6" fill="#000"/>
<circle cx="245.0" cy="402.8" r="2.6" fill="#000"/>
<circle cx="251.1" cy="406.8" r="2.6" fill="#000"/>
<circle cx="257.3" cy="409.4" r="2.6" fill="#000"/>
<circle cx="263.5" cy="406.0" r="2.6" fill="#000"/>
<circle cx="269.6" cy="413.4" r="2.6" fill="#000"/>
<circle cx="275.8" cy="409.8" r="2.6" fill="#000"/>
<circle cx="282.0" cy="414.6" r="2.6" fill="#000"/>
<circle cx="288.1" cy="414.6" r="2.6" fill="#000"/>
<circle cx="294.3" cy="407.9" r="2.6" fill="#000"/>
<circle cx="300.5" cy="409.1" r="2.6" fill="#000"/>
<circle cx="306.6" cy="404.8" r="2.6" fill="#000"/>
<circle cx="312.8" cy="408.3" r="2.6" fill="#000"/>
<circle cx="319.0" cy="406.3" r="2.6" fill="#000"/>
<circle cx="325.2" cy="406.8" r="2.6" fill="#000"/>
<circle cx="331.3" cy="401.3" r="2.6" fill="#000"/>
<circle cx="337.5" cy="399.4" r="2.6" fill="#000"/>
<circle cx="343.7" cy="402.7" r="2.6" fill="#000"/>
<circle cx="349.8" cy="394.8" r="2.6" fill="#000"/>
<circle cx="356.0" cy="400.4" r="2.6" fill="#000"/>
<circle cx="362.2" cy="408.4" r="2.6" fill="#000"/>
<circle cx="368.3" cy="402.5" r="2.6" fill="#000"/>
<circle cx="374.5" cy="413.3" r="2.6" fill="#000"/>
<circle cx="380.7" cy="395.6" r="2.6" fill="#000"/>
<circle cx="386.8" cy="400.7" r="2.6" fill="#000"/>
<circle cx="393.0" cy="400.3" r="2.6" fill="#000"/>
<circle cx="399.2" cy="405.8" r="2.6" fill="#000"/>
<circle cx="405.3" cy="414.2" r="2.6" fill="#000"/>
<circle cx="411.5" cy="393.5" r="2.6" fill="#000"/>
<circle cx="417.7" cy="407.7" r="2.6" fill="#000"/>
<circle cx="423.8" cy="400.8" r="2.6" fill="#000"/>
<circle cx="430.0" cy="405.8" r="2.6" fill="#000"/>
<circle cx="436.2" cy="410.0" r="2.6" fill="#000"/>
<circle cx="442.3" cy="409.5" r="2.6" fill="#000"/>
<circle cx="448.5" cy="417.7" r="2.6" fill="#000"/>
<path transform="translate(37.89 19.10) scale(0.01061 0.01200)" d="M340 0L251 0L251-548C212-510 150-478 96-460L96-545C170-575 225-630 262-700L340-700Z" fill="#000" stroke="#000" stroke-width="0.40" vector-effect="non-scaling-stroke"/>
<text x="43.44" y="19.10" font-size="12.00" textLength="6.61" lengthAdjust="spacingAndGlyphs" stroke="#000" stroke-width="0.40" font-family="Liberation Sans, sans-serif">0</text>
<text x="49.35" y="19.10" font-size="12.00" textLength="6.61" lengthAdjust="spacingAndGlyphs" stroke="#000" stroke-width="0.40" font-family="Liberation Sans, sans-serif">0</text>
<text x="55.25" y="19.10" font-size="12.00" textLength="6.61" lengthAdjust="spacingAndGlyphs" stroke="#000" stroke-width="0.40" font-family="Liberation Sans, sans-serif">0</text>
<text x="61.15" y="19.10" font-size="12.00" textLength="6.61" lengthAdjust="spacingAndGlyphs" stroke="#000" stroke-width="0.40" font-family="Liberation Sans, sans-serif">0</text>
<text x="67.06" y="19.10" font-size="12.00" textLength="6.61" lengthAdjust="spacingAndGlyphs" stroke="#000" stroke-width="0.40" font-family="Liberation Sans, sans-serif">0</text>
<path transform="translate(43.57 84.70) scale(0.01088 0.01200)" d="M340 0L251 0L251-548C212-510 150-478 96-460L96-545C170-575 225-630 262-700L340-700Z" fill="#000" stroke="#000" stroke-width="0.40" vector-effect="non-scaling-stroke"/>
<text x="49.26" y="84.70" font-size="12.00" textLength="6.78" lengthAdjust="spacingAndGlyphs" stroke="#000" stroke-width="0.40" font-family="Liberation Sans, sans-serif">0</text>
<text x="55.31" y="84.70" font-size="12.00" textLength="6.78" lengthAdjust="spacingAndGlyphs" stroke="#000" stroke-width="0.40" font-family="Liberation Sans, sans-serif">0</text>
<text x="61.36" y="84.70" font-size="12.00" textLength="6.78" lengthAdjust="spacingAndGlyphs" stroke="#000" stroke-width="0.40" font-family="Liberation Sans, sans-serif">0</text>
<text x="67.41" y="84.70" font-size="12.00" textLength="6.78" lengthAdjust="spacingAndGlyphs" stroke="#000" stroke-width="0.40" font-family="Liberation Sans, sans-serif">0</text>
<path transform="translate(50.50 151.20) scale(0.01048 0.01200)" d="M340 0L251 0L251-548C212-510 150-478 96-460L96-545C170-575 225-630 262-700L340-700Z" fill="#000" stroke="#000" stroke-width="0.40" vector-effect="non-scaling-stroke"/>
<text x="55.98" y="151.20" font-size="12.00" textLength="6.53" lengthAdjust="spacingAndGlyphs" stroke="#000" stroke-width="0.40" font-family="Liberation Sans, sans-serif">0</text>
<text x="61.81" y="151.20" font-size="12.00" textLength="6.53" lengthAdjust="spacingAndGlyphs" stroke="#000" stroke-width="0.40" font-family="Liberation Sans, sans-serif">0</text>
<text x="67.64" y="151.20" font-size="12.00" textLength="6.53" lengthAdjust="spacingAndGlyphs" stroke="#000" stroke-width="0.40" font-family="Liberation Sans, sans-serif">0</text>
<path transform="translate(56.41 216.60) scale(0.01043 0.01200)" d="M340 0L251 0L251-548C212-510 150-478 96-460L96-545C170-575 225-630 262-700L340-700Z" fill="#000" stroke="#000" stroke-width="0.40" vector-effect="non-scaling-stroke"/>
<text x="61.86" y="216.60" font-size="12.00" textLength="6.50" lengthAdjust="spacingAndGlyphs" stroke="#000" stroke-width="0.40" font-family="Liberation Sans, sans-serif">0</text>
<text x="67.66" y="216.60" font-size="12.00" textLength="6.50" lengthAdjust="spacingAndGlyphs" stroke="#000" stroke-width="0.40" font-family="Liberation Sans, sans-serif">0</text>
<path transform="translate(62.85 281.90) scale(0.00983 0.01200)" d="M340 0L251 0L251-548C212-510 150-478 96-460L96-545C170-575 225-630 262-700L340-700Z" fill="#000" stroke="#000" stroke-width="0.40" vector-effect="non-scaling-stroke"/>
<text x="67.99" y="281.90" font-size="12.00" textLength="6.12" lengthAdjust="spacingAndGlyphs" stroke="#000" stroke-width="0.40" font-family="Liberation Sans, sans-serif">0</text>
<path transform="translate(41.08 335.40) scale(0.01076 0.01200)" d="M340 0L251 0L251-548C212-510 150-478 96-460L96-545C170-575 225-630 262-700L340-700Z" fill="#000" stroke="#000" stroke-width="0.40" vector-effect="non-scaling-stroke"/>
<text x="46.71" y="335.40" font-size="12.00" textLength="6.70" lengthAdjust="spacingAndGlyphs" stroke="#000" stroke-width="0.40" font-family="Liberation Sans, sans-serif">0</text>
<text x="52.70" y="335.40" font-size="12.00" textLength="6.70" lengthAdjust="spacingAndGlyphs" stroke="#000" stroke-width="0.40" font-family="Liberation Sans, sans-serif">0</text>
<text x="58.68" y="335.40" font-size="12.00" textLength="6.70" lengthAdjust="spacingAndGlyphs" stroke="#000" stroke-width="0.40" font-family="Liberation Sans, sans-serif">0</text>
<path transform="translate(48.66 422.90) scale(0.00979 0.01200)" d="M340 0L251 0L251-548C212-510 150-478 96-460L96-545C170-575 225-630 262-700L340-700Z" fill="#000" stroke="#000" stroke-width="0.40" vector-effect="non-scaling-stroke"/>
<text x="53.77" y="422.90" font-size="12.00" textLength="6.10" lengthAdjust="spacingAndGlyphs" stroke="#000" stroke-width="0.40" font-family="Liberation Sans, sans-serif">0</text>
<text x="59.22" y="422.90" font-size="12.00" textLength="6.10" lengthAdjust="spacingAndGlyphs" stroke="#000" stroke-width="0.40" font-family="Liberation Sans, sans-serif">0</text>
<path transform="translate(54.48 512.60) scale(0.00943 0.01200)" d="M340 0L251 0L251-548C212-510 150-478 96-460L96-545C170-575 225-630 262-700L340-700Z" fill="#000" stroke="#000" stroke-width="0.40" vector-effect="non-scaling-stroke"/>
<text x="59.41" y="512.60" font-size="12.00" textLength="5.87" lengthAdjust="spacingAndGlyphs" stroke="#000" stroke-width="0.40" font-family="Liberation Sans, sans-serif">0</text>
<path transform="translate(61.02 601.60) scale(0.00766 0.01200)" d="M340 0L251 0L251-548C212-510 150-478 96-460L96-545C170-575 225-630 262-700L340-700Z" fill="#000" stroke="#000" stroke-width="0.40" vector-effect="non-scaling-stroke"/>
<text x="81.64" y="302.40" font-size="12.00" textLength="7.33" lengthAdjust="spacingAndGlyphs" stroke="#000" stroke-width="0.40" font-family="Liberation Sans, sans-serif">0</text>
<text x="80.54" y="621.60" font-size="12.00" textLength="7.33" lengthAdjust="spacingAndGlyphs" stroke="#000" stroke-width="0.40" font-family="Liberation Sans, sans-serif">0</text>
<path transform="translate(140.12 302.40) scale(0.01176 0.01200)" d="M340 0L251 0L251-548C212-510 150-478 96-460L96-545C170-575 225-630 262-700L340-700Z" fill="#000" stroke="#000" stroke-width="0.40" vector-effect="non-scaling-stroke"/>
<text x="146.27" y="302.40" font-size="12.00" textLength="7.33" lengthAdjust="spacingAndGlyphs" stroke="#000" stroke-width="0.40" font-family="Liberation Sans, sans-serif">0</text>
<path transform="translate(139.12 621.60) scale(0.01176 0.01200)" d="M340 0L251 0L251-548C212-510 150-478 96-460L96-545C170-575 225-630 262-700L340-700Z" fill="#000" stroke="#000" stroke-width="0.40" vector-effect="non-scaling-stroke"/>
<text x="145.27" y="621.60" font-size="12.00" textLength="7.33" lengthAdjust="spacingAndGlyphs" stroke="#000" stroke-width="0.40" font-family="Liberation Sans, sans-serif">0</text>
<text x="201.46" y="302.40" font-size="12.00" textLength="7.33" lengthAdjust="spacingAndGlyphs" stroke="#000" stroke-width="0.40" font-family="Liberation Sans, sans-serif">2</text>
<text x="208.00" y="302.40" font-size="12.00" textLength="7.33" lengthAdjust="spacingAndGlyphs" stroke="#000" stroke-width="0.40" font-family="Liberation Sans, sans-serif">0</text>
<text x="200.56" y="621.60" font-size="12.00" textLength="7.33" lengthAdjust="spacingAndGlyphs" stroke="#000" stroke-width="0.40" font-family="Liberation Sans, sans-serif">2</text>
<text x="207.10" y="621.60" font-size="12.00" textLength="7.33" lengthAdjust="spacingAndGlyphs" stroke="#000" stroke-width="0.40" font-family="Liberation Sans, sans-serif">0</text>
<text x="263.11" y="302.40" font-size="12.00" textLength="7.33" lengthAdjust="spacingAndGlyphs" stroke="#000" stroke-width="0.40" font-family="Liberation Sans, sans-serif">3</text>
<text x="269.66" y="302.40" font-size="12.00" textLength="7.33" lengthAdjust="spacingAndGlyphs" stroke="#000" stroke-width="0.40" font-family="Liberation Sans, sans-serif">0</text>
<text x="262.31" y="621.60" font-size="12.00" textLength="7.33" lengthAdjust="spacingAndGlyphs" stroke="#000" stroke-width="0.40" font-family="Liberation Sans, sans-serif">3</text>
<text x="268.86" y="621.60" font-size="12.00" textLength="7.33" lengthAdjust="spacingAndGlyphs" stroke="#000" stroke-width="0.40" font-family="Liberation Sans, sans-serif">0</text>
<text x="324.78" y="302.40" font-size="12.00" textLength="7.33" lengthAdjust="spacingAndGlyphs" stroke="#000" stroke-width="0.40" font-family="Liberation Sans, sans-serif">4</text>
<text x="331.32" y="302.40" font-size="12.00" textLength="7.33" lengthAdjust="spacingAndGlyphs" stroke="#000" stroke-width="0.40" font-family="Liberation Sans, sans-serif">0</text>
<text x="324.08" y="621.60" font-size="12.00" textLength="7.33" lengthAdjust="spacingAndGlyphs" stroke="#000" stroke-width="0.40" font-family="Liberation Sans, sans-serif">4</text>
<text x="330.62" y="621.60" font-size="12.00" textLength="7.33" lengthAdjust="spacingAndGlyphs" stroke="#000" stroke-width="0.40" font-family="Liberation Sans, sans-serif">0</text>
<text x="386.26" y="302.40" font-size="12.00" textLength="7.33" lengthAdjust="spacingAndGlyphs" stroke="#000" stroke-width="0.40" font-family="Liberation Sans, sans-serif">5</text>
<text x="392.80" y="302.40" font-size="12.00" textLength="7.33" lengthAdjust="spacingAndGlyphs" stroke="#000" stroke-width="0.40" font-family="Liberation Sans, sans-serif">0</text>
<text x="385.66" y="621.60" font-size="12.00" textLength="7.33" lengthAdjust="spacingAndGlyphs" stroke="#000" stroke-width="0.40" font-family="Liberation Sans, sans-serif">5</text>
<text x="392.20" y="621.60" font-size="12.00" textLength="7.33" lengthAdjust="spacingAndGlyphs" stroke="#000" stroke-width="0.40" font-family="Liberation Sans, sans-serif">0</text>
<text x="447.78" y="302.40" font-size="12.00" textLength="7.33" lengthAdjust="spacingAndGlyphs" stroke="#000" stroke-width="0.40" font-family="Liberation Sans, sans-serif">6</text>
<text x="454.32" y="302.40" font-size="12.00" textLength="7.33" lengthAdjust="spacingAndGlyphs" stroke="#000" stroke-width="0.40" font-family="Liberation Sans, sans-serif">0</text>
<text x="447.28" y="621.60" font-size="12.00" textLength="7.33" lengthAdjust="spacingAndGlyphs" stroke="#000" stroke-width="0.40" font-family="Liberation Sans, sans-serif">6</text>
<text x="453.82" y="621.60" font-size="12.00" textLength="7.33" lengthAdjust="spacingAndGlyphs" stroke="#000" stroke-width="0.40" font-family="Liberation Sans, sans-serif">0</text>
<text x="455.46" y="79.00" font-size="18.50" textLength="35.45" lengthAdjust="spacingAndGlyphs" font-family="Liberation Sans, sans-serif" stroke="#000" stroke-width="0.35">max</text>
<text x="455.63" y="126.20" font-size="18.50" textLength="63.33" lengthAdjust="spacingAndGlyphs" font-family="Liberation Sans, sans-serif" stroke="#000" stroke-width="0.35">median</text>
<text x="455.01" y="229.30" font-size="18.50" textLength="31.57" lengthAdjust="spacingAndGlyphs" font-family="Liberation Sans, sans-serif" stroke="#000" stroke-width="0.35">min</text>
<text x="455.47" y="371.70" font-size="18.50" textLength="35.34" lengthAdjust="spacingAndGlyphs" font-family="Liberation Sans, sans-serif" stroke="#000" stroke-width="0.35">max</text>
<text x="456.33" y="423.40" font-size="18.50" textLength="62.91" lengthAdjust="spacingAndGlyphs" font-family="Liberation Sans, sans-serif" stroke="#000" stroke-width="0.35">median</text>
<text x="455.21" y="530.40" font-size="18.50" textLength="31.46" lengthAdjust="spacingAndGlyphs" font-family="Liberation Sans, sans-serif" stroke="#000" stroke-width="0.35">min</text>
<text x="336.18" y="31.00" font-size="29.80" textLength="155.74" lengthAdjust="spacingAndGlyphs" font-family="Liberation Sans, sans-serif" stroke="#000" stroke-width="0.35">Neutrophils</text>
<text x="354.88" y="591.30" font-size="29.80" textLength="118.05" lengthAdjust="spacingAndGlyphs" font-family="Liberation Sans, sans-serif" stroke="#000" stroke-width="0.35">Platelets</text>
<text x="163.29" y="662.80" font-size="21.50" textLength="223.18" lengthAdjust="spacingAndGlyphs" font-family="Liberation Sans, sans-serif" stroke="#000" stroke-width="0.35">Days After Transplant</text>
<text transform="translate(26.10 203.60) rotate(-90)" x="-1.18" y="0" font-size="23.00" textLength="105.75" lengthAdjust="spacingAndGlyphs" stroke="#000" stroke-width="0.2" font-family="Liberation Sans, sans-serif">Counts/µL</text>
<text transform="translate(25.90 550.80) rotate(-90)" x="-1.19" y="0" font-size="23.00" textLength="183.05" lengthAdjust="spacingAndGlyphs" stroke="#000" stroke-width="0.2" font-family="Liberation Sans, sans-serif">Counts x 1000/µL</text>
</svg>
</body></html>
